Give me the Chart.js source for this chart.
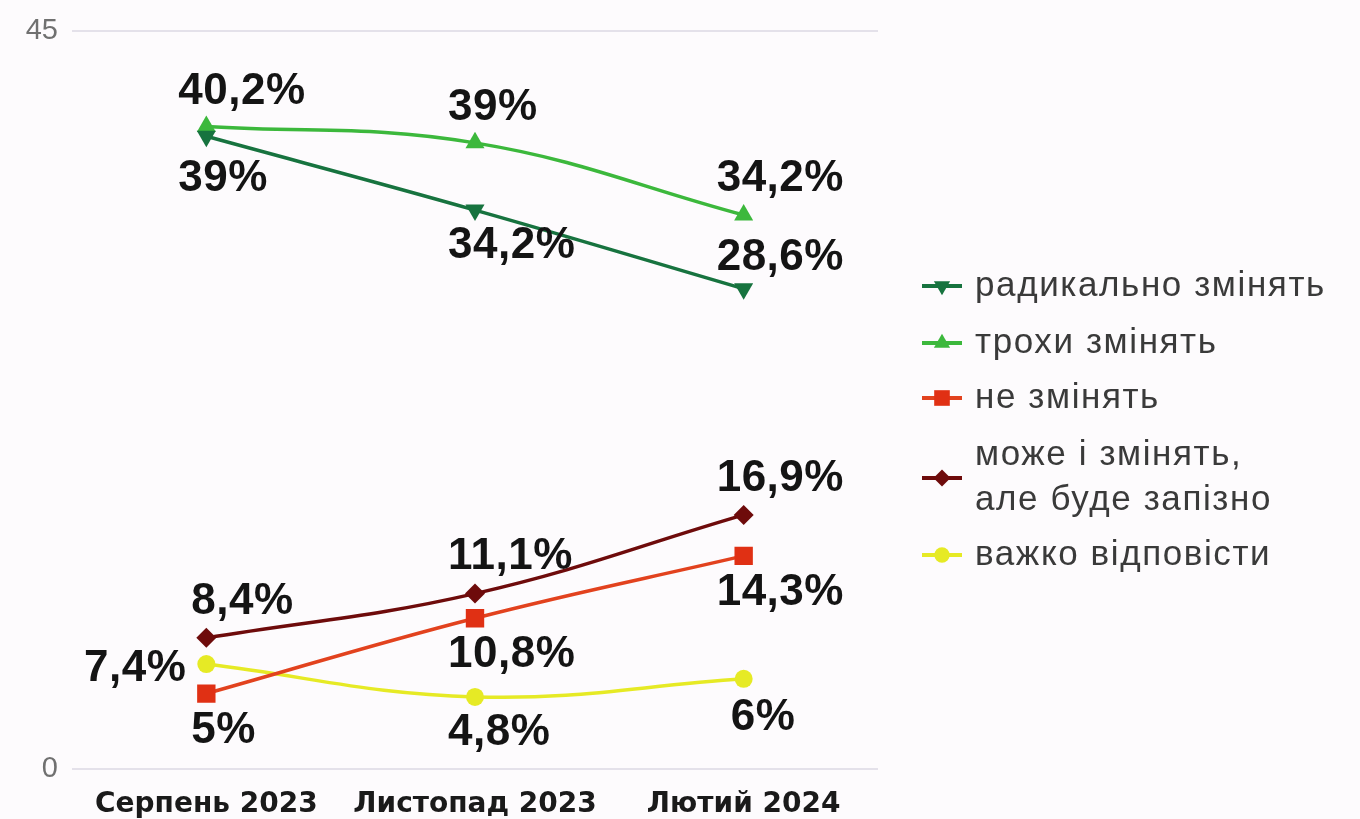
<!DOCTYPE html>
<html lang="uk">
<head>
<meta charset="utf-8">
<title>Зміни</title>
<script src="https://cdn.jsdelivr.net/npm/chart.js@4.4.0/dist/chart.umd.min.js"></script>
<style>
  html, body { margin: 0; padding: 0; background: #fdfbfd; }
  #wrap { width: 1360px; height: 819px; }
</style>
</head>
<body>
<div id="wrap"><canvas id="chart" width="1360" height="819"></canvas></div>
<script>
// Data

const months = ['Серпень 2023', 'Листопад 2023', 'Лютий 2024'];
const yTicks = [0, 45];

const seriesNames = [
    'радикально змінять',
    'трохи змінять',
    'не змінять',
    ['може і змінять,', 'але буде запізно'],
    'важко відповісти'
];

// values as the points sit on the picture
const radicalValues = [38.6, 34.1, 29.3];
const slightValues  = [39.2, 38.2, 33.8];
const noneValues    = [4.6, 9.2, 13.0];
const lateValues    = [8.0, 10.7, 15.5];
const unsureValues  = [6.4, 4.4, 5.5];

// value labels as printed
const radicalLabels = ['39%', '34,2%', '28,6%'];
const slightLabels  = ['40,2%', '39%', '34,2%'];
const noneLabels    = ['5%', '10,8%', '14,3%'];
const lateLabels    = ['8,4%', '11,1%', '16,9%'];
const unsureLabels  = ['7,4%', '4,8%', '6%'];


// Value labels next to each point
const pointLabels = {
    id: 'pointLabels',
    afterDatasetsDraw(chart) {
        const ctx = chart.ctx;
        ctx.save();
        ctx.font = 'bold 44px "Liberation Sans", Arial, sans-serif';
        ctx.letterSpacing = '0.5px';
        ctx.fillStyle = '#141414';
        ctx.textBaseline = 'middle';
        chart.data.datasets.forEach((ds, i) => {
            const meta = chart.getDatasetMeta(i);
            meta.data.forEach((pt, j) => {
                const place = ds.labelPlace[j];
                ctx.textAlign = place[2] || 'left';
                ctx.fillText(ds.valueLabels[j], pt.x + place[0], pt.y + place[1]);
            });
        });
        ctx.restore();
    }
};

// Legend on the right: line + marker + text
const sideLegend = {
    id: 'sideLegend',
    afterDraw(chart, args, opts) {
        const ctx = chart.ctx;
        ctx.save();
        ctx.font = '35px "Liberation Sans", Arial, sans-serif';
        ctx.letterSpacing = '1.6px';
        ctx.textBaseline = 'middle';
        ctx.textAlign = 'left';
        chart.data.datasets.forEach((ds, i) => {
            const y = opts.rows[i];
            ctx.strokeStyle = ds.borderColor;
            ctx.lineWidth = 4;
            ctx.beginPath();
            ctx.moveTo(opts.x, y);
            ctx.lineTo(opts.x + 40, y);
            ctx.stroke();
            ctx.fillStyle = ds.pointBackgroundColor;
            ctx.strokeStyle = ds.pointBackgroundColor;
            Chart.helpers.drawPoint(ctx, {
                pointStyle: ds.pointStyle,
                radius: ds.pointRadius * 0.85,
                rotation: ds.pointRotation || 0,
                borderWidth: 0
            }, opts.x + 20, y);

            ctx.fillStyle = '#3a3a3a';
            const lines = Array.isArray(ds.label) ? ds.label : [ds.label];
            const lh = 45;
            lines.forEach((line, k) => {
                ctx.fillText(line, opts.x + 53, y + (k - (lines.length - 1) / 2) * lh);
            });
        });
        ctx.restore();
    }
};


const ctx = document.getElementById('chart').getContext('2d');

new Chart(ctx, {
    type: 'line',
    data: {
        labels: months,
        datasets: [
            {
                label: seriesNames[0],
                data: radicalValues,
                valueLabels: radicalLabels,
                labelPlace: [[-28, 43], [-27, 36], [-27, -31]],
                borderColor: '#17733f',
                pointBackgroundColor: '#17733f',
                pointBorderColor: '#17733f',
                pointStyle: 'triangle',
                pointRotation: 180,
                pointRadius: 11
            },
            {
                label: seriesNames[1],
                data: slightValues,
                valueLabels: slightLabels,
                labelPlace: [[-28, -35], [-27, -35], [-27, -36]],
                borderColor: '#3cb83c',
                pointBackgroundColor: '#3cb83c',
                pointBorderColor: '#3cb83c',
                pointStyle: 'triangle',
                pointRadius: 11
            },
            {
                label: seriesNames[2],
                data: noneValues,
                valueLabels: noneLabels,
                labelPlace: [[-15, 37], [-27, 37], [-27, 37]],
                borderColor: '#e2421e',
                pointBackgroundColor: '#e03014',
                pointBorderColor: '#e03014',
                pointStyle: 'rect',
                pointRadius: 13
            },
            {
                label: seriesNames[3],
                data: lateValues,
                valueLabels: lateLabels,
                labelPlace: [[-15, -36], [-27, -37], [-27, -36]],
                borderColor: '#6e0b0b',
                pointBackgroundColor: '#6e0b0b',
                pointBorderColor: '#6e0b0b',
                pointStyle: 'rectRot',
                pointRadius: 10
            },
            {
                label: seriesNames[4],
                data: unsureValues,
                valueLabels: unsureLabels,
                labelPlace: [[-20, 5, 'right'], [-27, 36], [-13, 39]],
                borderColor: '#e6ea25',
                pointBackgroundColor: '#e6ea25',
                pointBorderColor: '#e6ea25',
                pointStyle: 'circle',
                pointRadius: 9
            }
        ]
    },
    options: {
        responsive: false,
        animation: false,
        layout: { padding: { left: 0, right: 482, top: 28, bottom: 0 } },
        elements: {
            line: { borderWidth: 3.5, tension: 0.4 },
            point: { borderWidth: 0, hoverRadius: 10 }
        },
        scales: {
            x: {
                offset: true,
                afterFit: (scale) => { scale.height = 50; },
                grid: { display: false },
                border: { display: false },
                ticks: {
                    color: '#1a1a1a',
                    font: { family: '"DejaVu Sans", Verdana, sans-serif', size: 28, weight: 'bold', lineHeight: 1.2 },
                    padding: 11,
                    maxRotation: 0,
                    autoSkip: false
                }
            },
            y: {
                min: yTicks[0],
                max: yTicks[1],
                afterBuildTicks: (scale) => { scale.ticks = yTicks.map(v => ({ value: v })); },
                afterFit: (scale) => { scale.width = 72; },
                grid: { color: '#e4e1ea', lineWidth: 2, drawTicks: false },
                border: { display: false },
                ticks: {
                    color: '#707070',
                    font: { family: '"Liberation Sans", Arial, sans-serif', size: 29 },
                    padding: 14
                }
            }
        },
        plugins: {
            legend: { display: false },
            tooltip: { enabled: false },
            sideLegend: { x: 922, rows: [286, 343, 398, 478, 555] }
        }
    },
    plugins: [pointLabels, sideLegend]
});
</script>
</body>
</html>
